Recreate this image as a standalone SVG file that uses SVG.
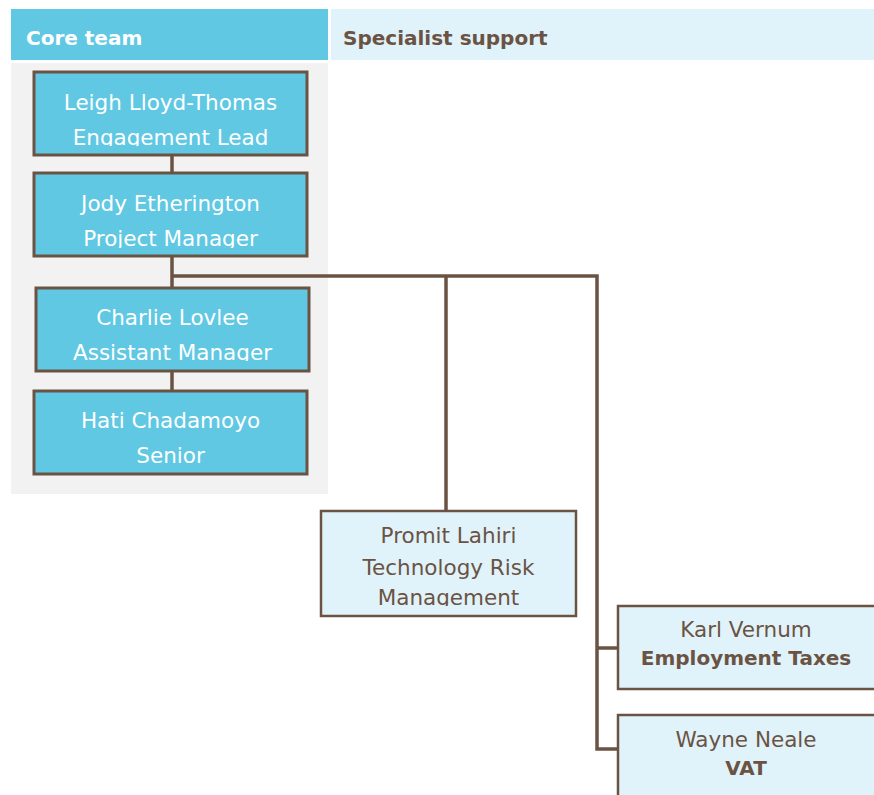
<svg xmlns="http://www.w3.org/2000/svg" width="874" height="795" viewBox="0 0 874 795">
<style>
.core rect.b{fill:#60c8e3;stroke:#6b5344;stroke-width:3}
.spec rect.b{fill:#e0f3fa;stroke:#6b5344;stroke-width:2.5}
text{font-family:"DejaVu Sans","Liberation Sans",sans-serif;font-size:21.5px;text-anchor:middle}
.core text{fill:#ffffff}
.spec text{fill:#6b5344}
.bold{font-weight:bold}
.hdr{font-weight:bold;font-size:20px;text-anchor:start}
.conn{fill:none;stroke:#6b5344;stroke-width:3.5}
</style>
<defs>
<clipPath id="c1"><rect x="34" y="72" width="273" height="74"/></clipPath>
<clipPath id="c2"><rect x="34" y="173" width="273" height="75"/></clipPath>
<clipPath id="c3"><rect x="36" y="288" width="273" height="73"/></clipPath>
<clipPath id="c5"><rect x="321" y="511" width="255" height="95"/></clipPath>
</defs>
<rect x="0" y="0" width="874" height="795" fill="#ffffff"/>
<g id="header-core">
<rect x="11" y="9" width="317" height="51" fill="#60c8e3"/>
<text class="hdr" x="26" y="45" fill="#ffffff">Core team</text>
</g>
<g id="header-specialist">
<rect x="331" y="9" width="543" height="51" fill="#e0f3fa"/>
<text class="hdr" x="343" y="45" fill="#6b5344">Specialist support</text>
</g>
<rect id="core-panel" x="11" y="63" width="317" height="431" fill="#f2f2f2"/>
<g id="connectors" class="conn">
<line x1="172" y1="155" x2="172" y2="173"/>
<path d="M172 256 V288 M172 276 H597 M446 276 V511 M597 274.25 V749 M597 648 H618 M595.25 749 H618"/>
<line x1="172" y1="371" x2="172" y2="391"/>
</g>
<g id="leigh" class="core">
<rect class="b" x="34" y="72" width="273" height="83"/>
<g clip-path="url(#c1)">
<text x="170.5" y="110">Leigh Lloyd-Thomas</text>
<text x="170.5" y="145">Engagement Lead</text>
</g>
</g>
<g id="jody" class="core">
<rect class="b" x="34" y="173" width="273" height="83"/>
<g clip-path="url(#c2)">
<text x="170.5" y="211">Jody Etherington</text>
<text x="170.5" y="246">Project Manager</text>
</g>
</g>
<g id="charlie" class="core">
<rect class="b" x="36" y="288" width="273" height="83"/>
<g clip-path="url(#c3)">
<text x="172.5" y="325">Charlie Lovlee</text>
<text x="172.5" y="360">Assistant Manager</text>
</g>
</g>
<g id="hati" class="core">
<rect class="b" x="34" y="391" width="273" height="83"/>
<text x="170.5" y="428">Hati Chadamoyo</text>
<text x="170.5" y="463">Senior</text>
</g>
<g id="promit" class="spec">
<rect class="b" x="321" y="511" width="255" height="105"/>
<g clip-path="url(#c5)">
<text x="448.5" y="543">Promit Lahiri</text>
<text x="448.5" y="575">Technology Risk</text>
<text x="448.5" y="605">Management</text>
</g>
</g>
<g id="karl" class="spec">
<rect class="b" x="618" y="606" width="260" height="83"/>
<text x="746" y="637">Karl Vernum</text>
<text class="bold" x="746" y="665" style="font-size:20px">Employment Taxes</text>
</g>
<g id="wayne" class="spec">
<rect class="b" x="618" y="715" width="260" height="90"/>
<text x="746" y="747">Wayne Neale</text>
<text class="bold" x="746" y="775" style="font-size:20px">VAT</text>
</g>
</svg>
